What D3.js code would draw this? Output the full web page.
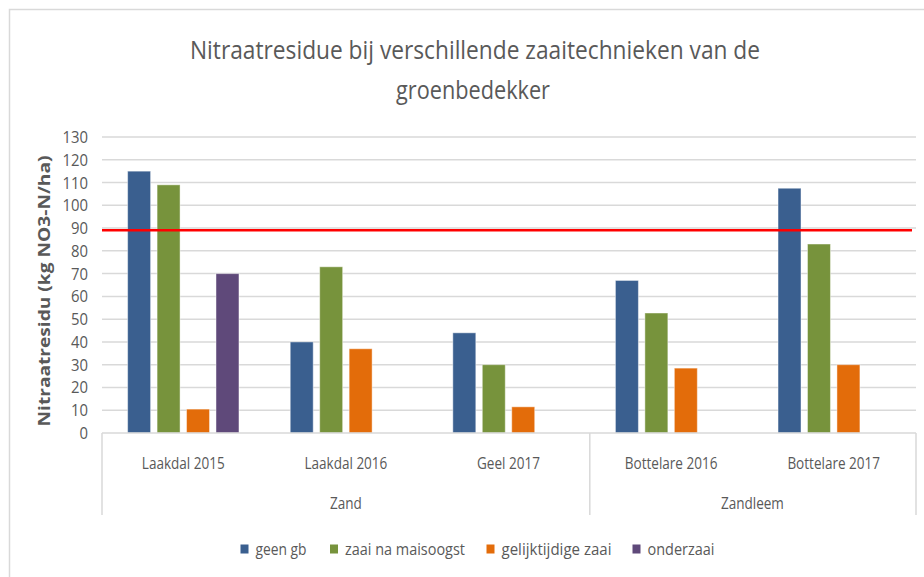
<!DOCTYPE html>
<html>
<head>
<meta charset="utf-8">
<script src="https://cdn.jsdelivr.net/npm/d3@7"></script>
<style>
  html, body { margin: 0; padding: 0; background: #fff; }
  svg { display: block; }
  text { font-family: "Open Sans", sans-serif; fill: #595959; }
</style>
</head>
<body>
<svg id="chart" width="924" height="577"></svg>
<script>
// ---- data ----
const categories = ["Laakdal 2015", "Laakdal 2016", "Geel 2017", "Bottelare 2016", "Bottelare 2017"];
const groups = [
  { name: "Zand", from: 0, to: 2 },
  { name: "Zandleem", from: 3, to: 4 }
];
const seriesNames = ["geen gb", "zaai na maisoogst", "gelijktijdige zaai", "onderzaai"];
const geenGb          = [115, 40, 44, 67, 107.5];
const zaaiNaMaisoogst = [109, 73, 30, 52.7, 83];
const gelijktijdig    = [10.5, 37, 11.5, 28.5, 30];
const onderzaai       = [70, null, null, null, null];
const threshold = 89;
const yTicks = [0, 10, 20, 30, 40, 50, 60, 70, 80, 90, 100, 110, 120, 130];
const colors = ["#3a5f8f", "#77933c", "#e36c0a", "#5f497a"];
const titleLines = ["Nitraatresidue bij verschillende zaaitechnieken van de", "groenbedekker"];
const yTitle = "Nitraatresidu (kg NO3-N/ha)";

(function () {
const seriesValues = [geenGb, zaaiNaMaisoogst, gelijktijdig, onderzaai];
const svg = d3.select("#chart");

// horizontally condense text to mimic the narrow reference typeface
function squeeze(sel, f) {
  sel.each(function () {
    const w = this.getComputedTextLength();
    d3.select(this).attr("textLength", w * f).attr("lengthAdjust", "spacingAndGlyphs");
  });
}

// outer frame
svg.append("rect").attr("x", 9.5).attr("y", 9.5).attr("width", 940).attr("height", 600)
  .attr("fill", "none").attr("stroke", "#d9d9d9").attr("stroke-width", 1.5);

const pLeft = 102, pRight = 915, pTop = 137, pBottom = 433;
const x0 = d3.scaleBand().domain(categories).range([pLeft, pRight]).padding(0);
const x1 = d3.scaleBand().domain(seriesNames).range([0, x0.bandwidth()]).paddingInner(0.22).paddingOuter(0.87);
const y = d3.scaleLinear().domain([0, 130]).range([pBottom, pTop]);

// gridlines
svg.append("g").selectAll("line").data(yTicks.filter(d => d > 0)).join("line")
  .attr("x1", pLeft).attr("x2", pRight + 1)
  .attr("y1", d => y(d)).attr("y2", d => y(d))
  .attr("stroke", "#d9d9d9").attr("stroke-width", 1.5);

// y tick labels
svg.append("g").selectAll("text").data(yTicks).join("text")
  .attr("x", 88).attr("y", d => y(d) + 6)
  .attr("text-anchor", "end").attr("font-size", 16.5)
  .text(d => d)
  .call(squeeze, 0.9);

// y title
svg.append("text")
  .attr("transform", `translate(50,${(pTop + pBottom) / 2 + 6}) rotate(-90)`)
  .attr("text-anchor", "middle").attr("font-size", 15.5).attr("font-weight", "bold")
  .attr("textLength", 271).attr("lengthAdjust", "spacingAndGlyphs")
  .text(yTitle);

// bars
const barData = [];
categories.forEach((c, i) => {
  seriesNames.forEach((s, j) => {
    const v = seriesValues[j][i];
    if (v != null) barData.push({ c, s, v, j });
  });
});
svg.append("g").selectAll("rect").data(barData).join("rect")
  .attr("x", d => x0(d.c) + x1(d.s))
  .attr("width", x1.bandwidth())
  .attr("y", d => y(d.v))
  .attr("height", d => y(0) - y(d.v))
  .attr("fill", d => colors[d.j])
  .attr("stroke", "rgba(255,255,255,0.45)").attr("stroke-width", 1);

// threshold line
svg.append("line").attr("x1", pLeft).attr("x2", pRight - 3)
  .attr("y1", y(threshold)).attr("y2", y(threshold))
  .attr("stroke", "#ff0000").attr("stroke-width", 2.5);

// x axis baseline and separators
svg.append("line").attr("x1", pLeft).attr("x2", pRight + 1).attr("y1", pBottom).attr("y2", pBottom)
  .attr("stroke", "#d9d9d9").attr("stroke-width", 1.5);
const sepX = [pLeft, x0(categories[3]), pRight + 1];
svg.append("g").selectAll("line").data(sepX).join("line")
  .attr("x1", d => d).attr("x2", d => d).attr("y1", pBottom).attr("y2", 515)
  .attr("stroke", "#d9d9d9").attr("stroke-width", 1.5);

// category labels
svg.append("g").selectAll("text").data(categories).join("text")
  .attr("x", d => x0(d) + x0.bandwidth() / 2).attr("y", 469)
  .attr("text-anchor", "middle").attr("font-size", 16.5)
  .text(d => d)
  .call(squeeze, 0.82);

// group labels
svg.append("g").selectAll("text").data(groups).join("text")
  .attr("x", d => (x0(categories[d.from]) + x0(categories[d.to]) + x0.bandwidth()) / 2)
  .attr("y", 509).attr("text-anchor", "middle").attr("font-size", 16.5)
  .text(d => d.name)
  .call(squeeze, 0.82);

// title
svg.append("g").selectAll("text").data(titleLines).join("text")
  .attr("x", (d, i) => i === 0 ? 475 : 473)
  .attr("y", (d, i) => 59 + i * 40)
  .attr("text-anchor", "middle").attr("font-size", 25.5)
  .attr("textLength", (d, i) => i === 0 ? 570 : 154).attr("lengthAdjust", "spacingAndGlyphs")
  .text(d => d);

// legend
const legendX = [240.5, 330, 486.5, 632.5];
const legendW = [51, 120, 110, 67];
const lg = svg.append("g").selectAll("g").data(seriesNames).join("g")
  .attr("transform", (d, i) => `translate(${legendX[i]},544)`);
lg.append("rect").attr("width", 8).attr("height", 9).attr("y", 0.5)
  .attr("fill", (d, i) => colors[i]);
lg.append("text").attr("x", 15).attr("y", 10.5).attr("font-size", 15.5)
  .attr("textLength", (d, i) => legendW[i]).attr("lengthAdjust", "spacingAndGlyphs")
  .text(d => d);
})();
</script>
</body>
</html>
